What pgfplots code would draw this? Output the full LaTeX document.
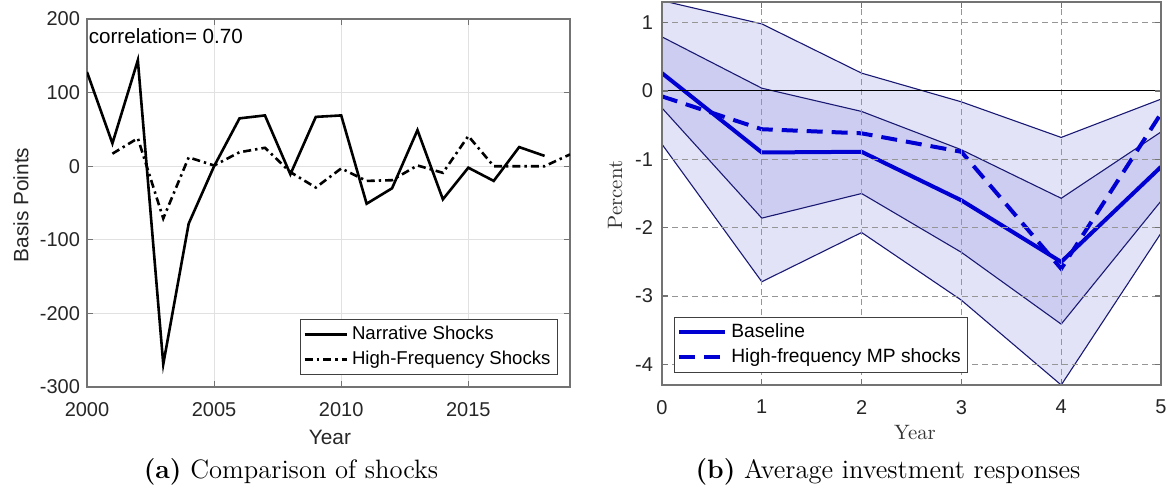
\documentclass[border=0pt]{standalone}
\usepackage{fontspec}
\usepackage{pgfplots}
\usepackage{pgfplotstable}
\pgfplotsset{compat=1.18}
\newfontfamily\arial{Liberation Sans}
\definecolor{outerband}{RGB}{227,227,248}
\definecolor{innerband}{RGB}{205,205,241}
\definecolor{bandedge}{RGB}{25,25,115}
\definecolor{mblue}{RGB}{0,0,210}
\definecolor{axgray}{RGB}{115,115,115}
\definecolor{txtgray}{RGB}{38,38,38}
\definecolor{gridlight}{RGB}{225,225,225}
\definecolor{griddash}{RGB}{150,150,150}

\pgfplotstableread{
year narr hf
2000 128 nan
2001 31 17
2002 144 38
2003 -269 -71
2004 -78 12
2005 0 1
2006 65 19
2007 69 25
2008 -11 -8
2009 67 -29
2010 69 -3
2011 -51 -20
2012 -30 -19
2013 49 1
2014 -45 -9
2015 -2 41
2016 -20 0
2017 26 0
2018 14 0
2019 nan 16
}\shocks

\pgfplotstableread{
h ou iu b il ol hf
0 1.32 0.79 0.26 -0.25 -0.78 -0.08
1 0.98 0.04 -0.90 -1.86 -2.79 -0.56
2 0.26 -0.30 -0.89 -1.50 -2.07 -0.62
3 -0.16 -0.86 -1.60 -2.36 -3.06 -0.89
4 -0.68 -1.57 -2.50 -3.41 -4.30 -2.60
5 -0.12 -0.60 -1.11 -1.61 -2.08 -0.33
}\irf

\begin{document}
\begin{tikzpicture}
\path[use as bounding box] (0,0) rectangle (586pt,244pt);

% ---------- Panel (a)
\begin{axis}[
  at={(43.5pt,50.5pt)}, anchor=south west,
  scale only axis, width=241.5pt, height=184pt,
  xmin=2000, xmax=2019, ymin=-300, ymax=200,
  xtick={2000,2005,2010,2015}, ytick={-300,-200,-100,0,100,200},
  grid=major, major grid style={color=gridlight, line width=0.5pt},
  axis line style={axgray, line width=0.6pt},
  tick style={axgray, line width=0.6pt},
  tick align=inside, major tick length=3pt,
  /pgf/number format/assume math mode=true,
  /pgf/number format/1000 sep={},
  ticklabel style={font=\arial\fontsize{10}{12}\selectfont, text=txtgray},
  xticklabel style={yshift=-4pt},
  xlabel={Year}, ylabel={Basis Points},
  label style={font=\arial\fontsize{10.4}{12}\selectfont, text=txtgray},
  xlabel style={at={(axis description cs:0.503,-0.136)}, anchor=center},
  ylabel style={at={(axis description cs:-0.137,0.495)}, anchor=center},
  legend style={at={(axis description cs:0.975,0.033)}, anchor=south east,
    draw=black!75, line width=0.4pt, fill=white,
    font=\arial\fontsize{9.3}{11}\selectfont, inner sep=1.5pt, row sep=0pt,
    cells={anchor=west}},
  legend image code/.code={\draw[#1] (0pt,0pt) -- (21pt,0pt);},
]
\addplot[black, line width=1.3pt] table[x=year, y=narr]{\shocks};
\addlegendentry{Narrative Shocks}
\addplot[black, line width=1.3pt, dash pattern=on 4pt off 2pt on 1.2pt off 2pt] table[x=year, y=hf]{\shocks};
\addlegendentry{High-Frequency Shocks}
\node[anchor=north west, inner sep=0pt, font=\arial\fontsize{10.3}{12}\selectfont, text=black]
  at (axis description cs:0.003,0.975) {correlation= 0.70};
\end{axis}

% ---------- Panel (b)
\begin{axis}[
  at={(331pt,51.5pt)}, anchor=south west,
  scale only axis, width=249.5pt, height=191.5pt,
  xmin=0, xmax=5, ymin=-4.3, ymax=1.3,
  xtick={0,1,2,3,4,5}, ytick={-4,-3,-2,-1,0,1},
  axis on top,
  grid=major, major grid style={color=griddash, line width=0.45pt, dash pattern=on 3pt off 2pt},
  extra y ticks={0}, extra y tick labels={},
  extra y tick style={grid=major, major grid style={black, solid, line width=0.45pt}},
  axis line style={axgray, line width=0.6pt},
  tick style={axgray, line width=0.6pt},
  tick align=inside, major tick length=3pt,
  /pgf/number format/assume math mode=true,
  ticklabel style={font=\arial\fontsize{10}{12}\selectfont, text=txtgray},
  xticklabel style={yshift=-4pt},
  yticklabel style={xshift=-1pt},
  xlabel={Year}, ylabel={Percent},
  label style={font=\fontsize{10.4}{12}\selectfont, text=black!80},
  xlabel style={at={(axis description cs:0.507,-0.123)}, anchor=center},
  ylabel style={at={(axis description cs:-0.094,0.496)}, anchor=center},
  legend style={at={(axis description cs:0.024,0.031)}, anchor=south west,
    draw=black!75, line width=0.4pt, fill=white,
    font=\arial\fontsize{9.6}{11}\selectfont, inner sep=1.5pt, row sep=0pt,
    cells={anchor=west}},
  legend image code/.code={\draw[#1] (0pt,0pt) -- (23pt,0pt);},
]
% outer band: upper bound left to right, then lower bound right to left
\addplot[fill=outerband, draw=none, forget plot] coordinates {
  (0,1.32) (1,0.98) (2,0.26) (3,-0.16) (4,-0.68) (5,-0.12)
  (5,-2.08) (4,-4.30) (3,-3.06) (2,-2.07) (1,-2.79) (0,-0.78)} -- cycle;
% inner band
\addplot[fill=innerband, draw=none, forget plot] coordinates {
  (0,0.79) (1,0.04) (2,-0.30) (3,-0.86) (4,-1.57) (5,-0.60)
  (5,-1.61) (4,-3.41) (3,-2.36) (2,-1.50) (1,-1.86) (0,-0.25)} -- cycle;
\addplot[bandedge, line width=0.55pt, forget plot] table[x=h, y=ou]{\irf};
\addplot[bandedge, line width=0.55pt, forget plot] table[x=h, y=iu]{\irf};
\addplot[bandedge, line width=0.55pt, forget plot] table[x=h, y=il]{\irf};
\addplot[bandedge, line width=0.55pt, forget plot] table[x=h, y=ol]{\irf};
\addplot[mblue, line width=2pt] table[x=h, y=b]{\irf};
\addlegendentry{Baseline}
\addplot[mblue, line width=2pt, dash pattern=on 8pt off 4.5pt] table[x=h, y=hf]{\irf};
\addlegendentry{High-frequency MP shocks}
\end{axis}

% ---------- Captions
\node[anchor=base, font=\fontsize{13.3}{15}\selectfont] at (145.5pt,5pt) {\textbf{(a)} Comparison of shocks};
\node[anchor=base, font=\fontsize{13.3}{15}\selectfont] at (444pt,5pt) {\textbf{(b)} Average investment responses};
\end{tikzpicture}
\end{document}
